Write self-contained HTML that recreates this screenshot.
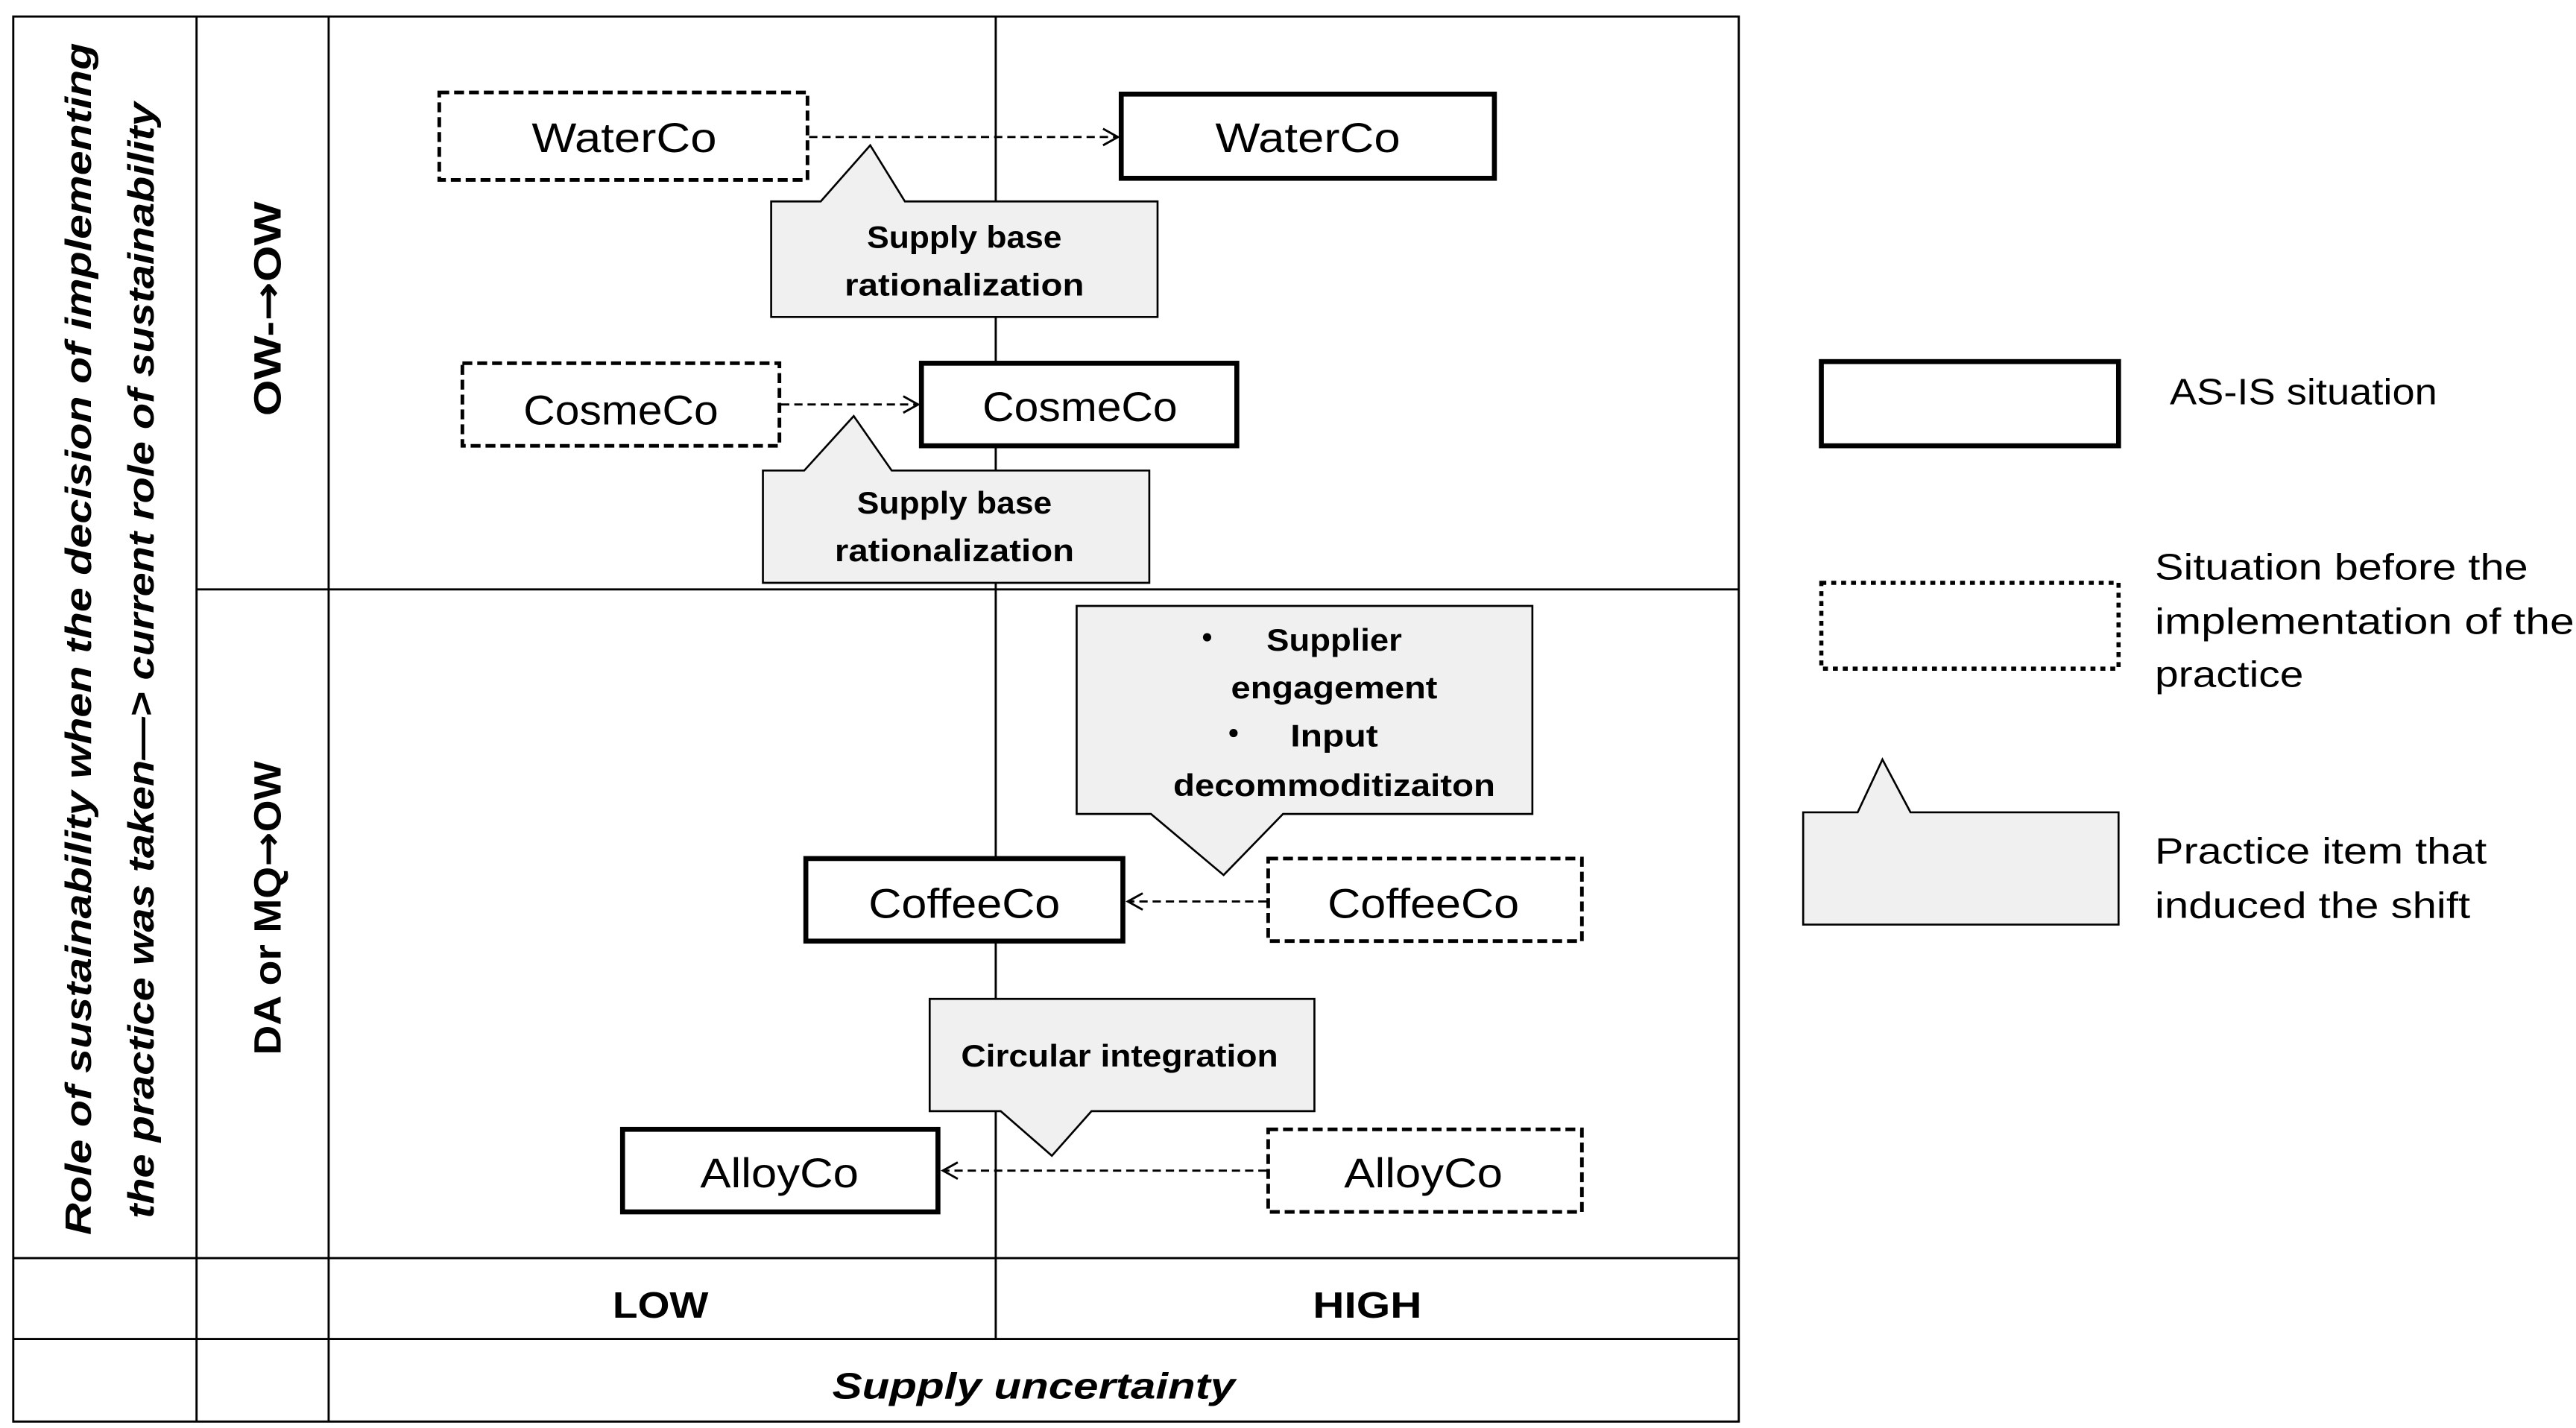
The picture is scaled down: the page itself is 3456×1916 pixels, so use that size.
<!DOCTYPE html>
<html><head><meta charset="utf-8"><style>html,body{margin:0;padding:0;background:#fff}svg{display:block}</style></head>
<body>
<svg width="3456" height="1916" viewBox="0 0 1560 864.9" xmlns="http://www.w3.org/2000/svg" font-family="Liberation Sans, sans-serif">
<g stroke="#000" stroke-width="1.3" fill="none">
<rect x="8" y="10" width="1045" height="851"/>
<line x1="119" y1="10" x2="119" y2="861"/>
<line x1="199" y1="10" x2="199" y2="861"/>
<line x1="603" y1="10" x2="603" y2="811"/>
<line x1="119" y1="357" x2="1053" y2="357"/>
<line x1="8" y1="762" x2="1053" y2="762"/>
<line x1="8" y1="811" x2="1053" y2="811"/>
</g>
<g fill="#f0f0f0" stroke="#000" stroke-width="1.2">
<path d="M467 122 H497 L527 88 L548 122 H701 V192 H467 Z"/>
<path d="M462 285 H487 L517 252 L540 285 H696 V353 H462 Z"/>
<path d="M652 367 H928 V493 H777 L741 530 L697 493 H652 Z"/>
<path d="M563 605 H796 V673 H661 L637 700 L606 673 H563 Z"/>
<path d="M1092 492 H1125 L1140 460 L1157 492 H1283 V560 H1092 Z"/>
</g>
<g fill="#fff" stroke="#000">
<rect x="266" y="56" width="223" height="53" stroke-width="2.2" stroke-dasharray="6,3"/>
<rect x="679" y="57" width="226" height="51" stroke-width="3"/>
<rect x="280" y="220" width="192" height="50" stroke-width="2.2" stroke-dasharray="6,3"/>
<rect x="558" y="220" width="191" height="50" stroke-width="3"/>
<rect x="488" y="520" width="192" height="50" stroke-width="3"/>
<rect x="768" y="520" width="190" height="50" stroke-width="2.2" stroke-dasharray="6,3"/>
<rect x="377" y="684" width="191" height="50" stroke-width="3"/>
<rect x="768" y="684" width="190" height="50" stroke-width="2.2" stroke-dasharray="6,3"/>
<rect x="1103" y="219" width="180" height="51" stroke-width="3"/>
<rect x="1103" y="353" width="180" height="52" stroke-width="2.5" stroke-dasharray="3,3"/>
</g>
<g stroke="#000" stroke-width="1.3" stroke-dasharray="5,3" fill="none">
<line x1="490" y1="83" x2="676" y2="83"/>
<line x1="473" y1="245" x2="555" y2="245"/>
<line x1="767" y1="546" x2="684" y2="546"/>
<line x1="767" y1="709" x2="572" y2="709"/>
</g>
<g stroke="#000" stroke-width="1.3" fill="none">
<polyline points="668,78 677,83 668,88"/>
<polyline points="547,240 556,245 547,250"/>
<polyline points="692,541 683,546 692,551"/>
<polyline points="580,704 571,709 580,714"/>
</g>
<g font-size="25" text-anchor="middle" fill="#000">
<text x="378" y="92" textLength="112" lengthAdjust="spacingAndGlyphs">WaterCo</text>
<text x="792" y="92" textLength="112" lengthAdjust="spacingAndGlyphs">WaterCo</text>
<text x="376" y="257" textLength="118" lengthAdjust="spacingAndGlyphs">CosmeCo</text>
<text x="654" y="255" textLength="118" lengthAdjust="spacingAndGlyphs">CosmeCo</text>
<text x="584" y="556" textLength="116" lengthAdjust="spacingAndGlyphs">CoffeeCo</text>
<text x="862" y="556" textLength="116" lengthAdjust="spacingAndGlyphs">CoffeeCo</text>
<text x="472" y="719" textLength="96" lengthAdjust="spacingAndGlyphs">AlloyCo</text>
<text x="862" y="719" textLength="96" lengthAdjust="spacingAndGlyphs">AlloyCo</text>
</g>
<g font-size="19" font-weight="bold" text-anchor="middle" fill="#000">
<text x="584" y="150" textLength="118" lengthAdjust="spacingAndGlyphs">Supply base</text>
<text x="584" y="179" textLength="145" lengthAdjust="spacingAndGlyphs">rationalization</text>
<text x="578" y="311" textLength="118" lengthAdjust="spacingAndGlyphs">Supply base</text>
<text x="578" y="340" textLength="145" lengthAdjust="spacingAndGlyphs">rationalization</text>
<text x="808" y="394" textLength="82" lengthAdjust="spacingAndGlyphs">Supplier</text>
<text x="808" y="423" textLength="125" lengthAdjust="spacingAndGlyphs">engagement</text>
<text x="808" y="452" textLength="53" lengthAdjust="spacingAndGlyphs">Input</text>
<text x="808" y="482" textLength="195" lengthAdjust="spacingAndGlyphs">decommoditizaiton</text>
<text x="678" y="646" textLength="192" lengthAdjust="spacingAndGlyphs">Circular integration</text>
</g>
<circle cx="731" cy="386" r="2.5" fill="#000"/>
<circle cx="747" cy="444" r="2.5" fill="#000"/>
<g font-weight="bold" text-anchor="middle" fill="#000">
<text x="400" y="798" font-size="22" textLength="58" lengthAdjust="spacingAndGlyphs">LOW</text>
<text x="828" y="798" font-size="22" textLength="66" lengthAdjust="spacingAndGlyphs">HIGH</text>
<text x="626" y="847" font-size="22" font-style="italic" textLength="244" lengthAdjust="spacingAndGlyphs">Supply uncertainty</text>
<text transform="translate(170,187) rotate(-90)" font-size="23" textLength="130" lengthAdjust="spacingAndGlyphs">OW-<tspan font-family="DejaVu Sans, sans-serif">→</tspan>OW</text>
<text transform="translate(170,550) rotate(-90)" font-size="23" textLength="178" lengthAdjust="spacingAndGlyphs">DA or MQ<tspan font-family="DejaVu Sans, sans-serif">→</tspan>OW</text>
<text transform="translate(55,387) rotate(-90)" font-size="22" font-style="italic" textLength="722" lengthAdjust="spacingAndGlyphs">Role of sustainability when the decision of implementing</text>
<text transform="translate(93,400) rotate(-90)" font-size="22" font-style="italic" textLength="676" lengthAdjust="spacingAndGlyphs">the practice was taken—&gt; current role of sustainability</text>
</g>
<g font-size="22" fill="#000">
<text x="1314" y="245" textLength="162" lengthAdjust="spacingAndGlyphs">AS-IS situation</text>
<text x="1305" y="351" textLength="226" lengthAdjust="spacingAndGlyphs">Situation before the</text>
<text x="1305" y="384" textLength="254" lengthAdjust="spacingAndGlyphs">implementation of the</text>
<text x="1305" y="416" textLength="90" lengthAdjust="spacingAndGlyphs">practice</text>
<text x="1305" y="523" textLength="201" lengthAdjust="spacingAndGlyphs">Practice item that</text>
<text x="1305" y="556" textLength="191" lengthAdjust="spacingAndGlyphs">induced the shift</text>
</g>
</svg>
</body></html>
